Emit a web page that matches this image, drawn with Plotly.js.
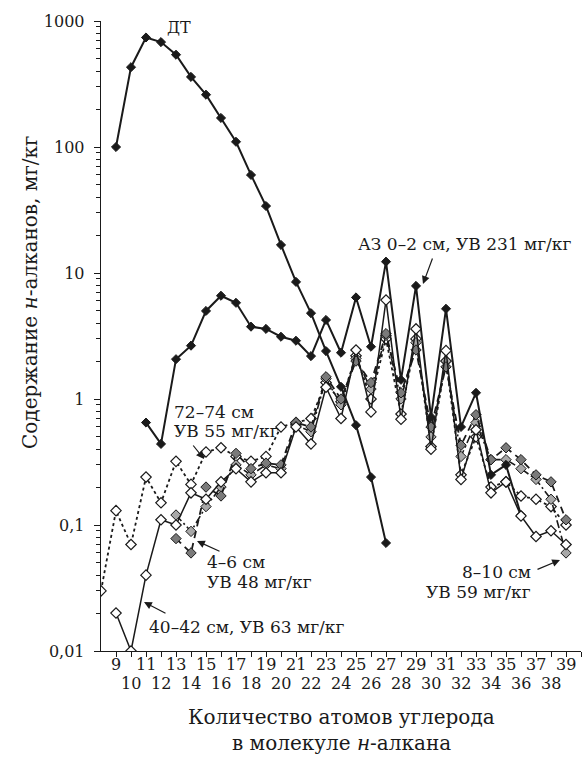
<!DOCTYPE html>
<html><head><meta charset="utf-8">
<script src="https://cdn.plot.ly/plotly-3.0.1.min.js"></script>
<style>html,body{margin:0;padding:0;background:#fff}</style>
</head><body><div id="chart" style="width:583px;height:768px"></div>
<script>
// ---- data (carbon number -> content, mg/kg) ----
const dtX   = [9,10,11,12,13,14,15,16,17,18,19,20,21,22,23,24,25,26,27];
const dtY   = [100,430,740,680,540,360,260,170,110,60,34,16.7,8.5,4.8,2.4,1.25,0.62,0.24,0.072];

const az02X = [11,12,13,14,15,16,17,18,19,20,21,22,23,24,25,26,27,28,29,30,31,32,33,34,35,36];
const az02Y = [0.65,0.44,2.07,2.65,5.0,6.6,5.8,3.75,3.6,3.12,2.9,2.19,4.24,2.33,6.4,2.6,12.3,1.42,7.9,0.72,5.2,0.6,1.12,0.25,0.3,0.12];

const c7274X = [8,9,10,11,12,13,14,15,16,17,18,19,20,21,22,23,24,25,26,27,28,29,30,31,32,33,34,35,36,37,38,39];
const c7274Y = [0.03,0.13,0.07,0.24,0.15,0.32,0.21,0.38,0.41,0.35,0.32,0.35,0.6,0.65,0.7,1.35,0.95,2.2,1.0,3.0,0.76,3.0,0.42,2.0,0.25,0.5,0.2,0.22,0.17,0.16,0.14,0.1];

const c4042X = [9,10,11,12,13,14,15,16,17,18,19,20,21,22,23,24,25,26,27,28,29,30,31,32,33,34,35,36,37,38,39];
const c4042Y = [0.02,0.01,0.04,0.11,0.10,0.18,0.16,0.22,0.28,0.22,0.26,0.26,0.6,0.44,1.24,0.7,2.45,0.79,6.1,0.69,3.6,0.4,2.42,0.23,0.57,0.18,0.22,0.118,0.081,0.09,0.07];

const c46X = [13,14,15,16,17,18,19,20,21,22,23,24,25,26,27,28,29,30,31,32,33,34,35,36,37,38,39];
const c46Y = [0.078,0.06,0.2,0.17,0.37,0.28,0.31,0.3,0.65,0.6,1.5,1.0,2.0,1.35,3.3,1.12,2.45,0.6,1.8,0.43,0.75,0.33,0.41,0.33,0.25,0.22,0.11];

const c810X = [13,14,15,16,17,18,19,20,21,22,23,24,25,26,27,28,29,30,31,32,33,34,35,36,37,38,39];
const c810Y = [0.12,0.089,0.14,0.2,0.3,0.25,0.3,0.28,0.62,0.55,1.45,0.9,2.1,1.2,3.2,1.0,2.8,0.5,2.0,0.35,0.65,0.33,0.33,0.28,0.23,0.16,0.06];

const yTickVals  = [0.01,0.1,1,10,100,1000];
const yTickText  = ['0,01','0,1','1','10','100','1000'];
const xTickVals  = [9,10,11,12,13,14,15,16,17,18,19,20,21,22,23,24,25,26,27,28,29,30,31,32,33,34,35,36,37,38,39,40];
const xTopLabels = [9,11,13,15,17,19,21,23,25,27,29,31,33,35,37,39];
const xBotLabels = [10,12,14,16,18,20,22,24,26,28,30,32,34,36,38];

// ---- geometry helpers (pixel -> paper) ----
const L = 101, T = 21, W = 480, H = 630;
const px = v => (v - L) / W;
const py = v => (T + H - v) / H;
const FONT = 'DejaVu Serif, serif';
const INK = '#1a1a1a';

const whiteM = {symbol:'diamond', size:8, color:'#ffffff', line:{color:INK, width:1.2}};
const blackM = {symbol:'diamond', size:7, color:INK, line:{color:INK, width:1}};
const darkM  = {symbol:'diamond', size:8, color:'#7a7a7a', line:{color:INK, width:1}};
const lightM = {symbol:'diamond', size:8, color:'#a8a8a8', line:{color:INK, width:1}};

const traces = [
  {x:c7274X, y:c7274Y, mode:'lines+markers', line:{color:INK, width:1.8, dash:'dot'}, marker:whiteM, name:'72–74 см'},
  {x:c810X,  y:c810Y,  mode:'lines+markers', line:{color:INK, width:1.6, dash:'8px,3px,2px,3px'}, marker:lightM, name:'8–10 см'},
  {x:c46X,   y:c46Y,   mode:'lines+markers', line:{color:INK, width:1.8, dash:'7px,5px'}, marker:darkM, name:'4–6 см'},
  {x:az02X,  y:az02Y,  mode:'lines+markers', line:{color:INK, width:2}, marker:blackM, name:'АЗ 0–2 см'},
  {x:c4042X, y:c4042Y, mode:'lines+markers', line:{color:INK, width:1.5}, marker:whiteM, name:'40–42 см'},
  {x:dtX,    y:dtY,    mode:'lines+markers', line:{color:INK, width:2}, marker:blackM, name:'ДТ'}
];

const ann = [];
const txt = (x, y, text, opts) => Object.assign({xref:'paper', yref:'paper', x:px(x), y:py(y), text:text,
  showarrow:false, font:{family:FONT, size:17, color:INK}, xanchor:'left', yanchor:'middle', align:'left'}, opts||{});
const arrow = (tx, ty, hx, hy) => ({xref:'paper', yref:'paper', x:px(hx), y:py(hy), ax:tx-hx, ay:ty-hy, text:'',
  showarrow:true, arrowhead:2, arrowsize:1.3, arrowwidth:1.2, arrowcolor:INK, standoff:0, startstandoff:0});

// x tick labels (two staggered rows)
xTopLabels.forEach(v => ann.push({xref:'x', yref:'paper', x:v, y:py(664), text:String(v), showarrow:false,
  font:{family:FONT, size:16, color:INK}, xanchor:'center', yanchor:'middle'}));
xBotLabels.forEach(v => ann.push({xref:'x', yref:'paper', x:v, y:py(683), text:String(v), showarrow:false,
  font:{family:FONT, size:16, color:INK}, xanchor:'center', yanchor:'middle'}));

// axis titles
ann.push(txt(341, 717, 'Количество атомов углерода', {xanchor:'center', font:{family:FONT, size:20, color:INK}}));
ann.push(txt(341, 743, 'в молекуле <i>н</i>-алкана', {xanchor:'center', font:{family:FONT, size:20, color:INK}}));
ann.push(txt(30, 292, 'Содержание <i>н</i>-алканов, мг/кг', {xanchor:'center', textangle:-90, font:{family:FONT, size:20, color:INK}}));

// series labels
ann.push(txt(165, 28, 'ДТ', {font:{family:FONT, size:16, color:INK}}));
ann.push(txt(356, 244, 'АЗ 0–2 см, УВ 231 мг/кг'));
ann.push(arrow(433, 257, 423, 284));
ann.push(txt(172, 412, '72–74 см'));
ann.push(txt(172, 431, 'УВ 55 мг/кг'));
ann.push(arrow(192, 444, 204, 459));
ann.push(txt(205, 562, '4–6 см'));
ann.push(txt(205, 582, 'УВ 48 мг/кг'));
ann.push(arrow(221, 552, 197, 541));
ann.push(txt(147, 627, '40–42 см, УВ 63 мг/кг'));
ann.push(arrow(167, 614, 144, 602));
ann.push(txt(533, 572, '8–10 см', {xanchor:'right', align:'right'}));
ann.push(txt(533, 592, 'УВ 59 мг/кг', {xanchor:'right', align:'right'}));
ann.push(arrow(536, 570, 560, 560));

const layout = {
  width:583, height:768,
  margin:{l:L, r:583-L-W, t:T, b:768-T-H},
  paper_bgcolor:'#fff', plot_bgcolor:'#fff',
  showlegend:false,
  font:{family:FONT, size:16, color:INK},
  xaxis:{range:[8,40], showgrid:false, zeroline:false, showline:true, linecolor:INK, linewidth:1.3,
         tickmode:'array', tickvals:xTickVals, ticks:'outside', ticklen:5, tickwidth:1, tickcolor:INK,
         showticklabels:false},
  yaxis:{type:'log', range:[-2,3], showgrid:false, zeroline:false, showline:true, linecolor:INK, linewidth:1.3,
         tickmode:'array', tickvals:yTickVals, ticktext:yTickText, ticks:'outside', ticklen:6, tickwidth:1, tickcolor:INK,
         tickfont:{family:FONT, size:16, color:INK}, ticklabelstandoff:6,
         minor:{ticks:'outside', ticklen:4, tickwidth:1, tickcolor:INK, dtick:'D1', showgrid:false}},
  annotations:ann
};

Plotly.newPlot('chart', traces, layout, {staticPlot:true, displayModeBar:false});
</script></body></html>
